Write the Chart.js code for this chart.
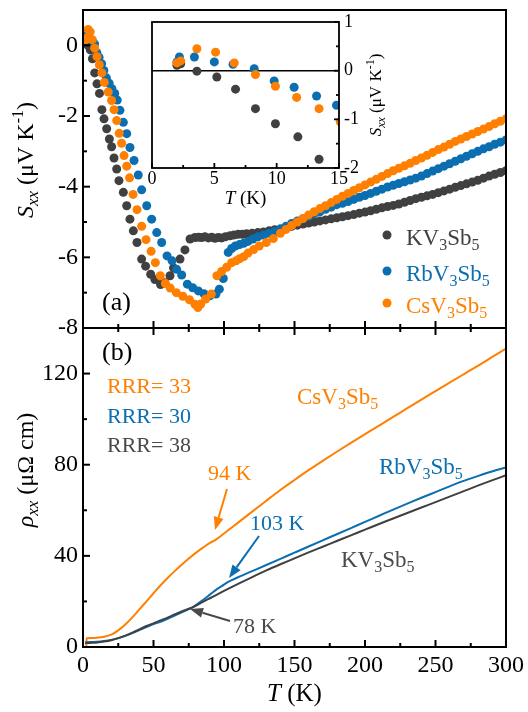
<!DOCTYPE html>
<html lang="en">
<head>
<meta charset="UTF-8">
<title>AV3Sb5 - Seebeck and resistivity</title>
<script src="https://cdn.jsdelivr.net/npm/chart.js"></script>
<style>
  body { margin: 0; background: #fff; }
  .wrap { position: relative; width: 528px; height: 712px; }
  .wrap canvas { position: absolute; left: 0; top: 0; }
</style>
</head>
<body>
<div class="wrap">
  <canvas id="rhoChart" width="528" height="712"></canvas>
  <canvas id="seebeckChart" width="528" height="712"></canvas>
  <canvas id="insetChart" width="528" height="712"></canvas>
</div>
<script>
// ---- panel (a): Seebeck S_xx (uV/K) vs T (K) ----
const kT  = [2.0, 2.3, 3.6, 5.2, 6.7, 8.3, 9.9, 11.7, 13.4, 14.9, 16.8, 18.7, 20.3, 22.0, 23.9, 25.5, 28.6, 31.0, 33.3, 35.7, 38.3, 41.6, 44.4, 48.0, 51.0, 55.0, 58.0, 61.7, 64.2, 68.8, 72.3, 75.9, 79.4, 82.0, 84.2, 86.5, 88.9, 91.3, 93.6, 96.0, 98.4, 101.0, 104.3, 107, 110, 113, 116, 120, 124, 128, 132, 136, 140];
const kS  = [0.11, 0.14, -0.01, -0.13, -0.38, -0.78, -1.09, -1.36, -1.82, -2.08, -2.36, -2.65, -2.87, -3.19, -3.5, -3.83, -4.16, -4.54, -4.92, -5.25, -5.58, -6.05, -6.25, -6.48, -6.63, -6.77, -6.72, -6.52, -6.3, -6.05, -5.79, -5.48, -5.44, -5.43, -5.44, -5.42, -5.45, -5.43, -5.46, -5.44, -5.45, -5.42, -5.39, -5.37, -5.35, -5.35, -5.33, -5.32, -5.3, -5.28, -5.25, -5.22, -5.2];
const rbT = [2.0, 2.2, 3.4, 5.0, 6.5, 8.2, 9.8, 11.4, 13.2, 14.8, 16.6, 18.5, 20.5, 22.5, 24.3, 26.2, 28.6, 31.0, 33.3, 36.2, 39.2, 41.6, 45.2, 48.7, 52.3, 55.8, 59.6, 63.2, 66.4, 70.0, 74.0, 77.8, 81.8, 85.8, 90.0, 94.3, 96.7, 99.5, 103.0, 105.4, 108, 111, 114, 117, 120.5, 124, 128, 132, 136, 140];
const rbS = [0.18, 0.28, 0.28, 0.18, 0.13, 0.04, -0.21, -0.34, -0.52, -0.71, -0.92, -1.07, -1.23, -1.36, -1.55, -1.84, -2.18, -2.5, -2.89, -3.26, -3.67, -4.09, -4.54, -4.92, -5.3, -5.58, -5.96, -6.1, -6.34, -6.5, -6.76, -6.86, -6.95, -7.03, -7.09, -7.04, -6.9, -6.6, -5.86, -5.75, -5.68, -5.64, -5.6, -5.55, -5.48, -5.42, -5.37, -5.32, -5.27, -5.2];
const csT = [2.0, 2.3, 3.6, 5.1, 6.6, 8.3, 9.9, 11.6, 13.4, 15.1, 17.9, 20.3, 22.0, 23.9, 25.7, 27.4, 29.1, 31.0, 33.0, 35.5, 38.3, 41.6, 44.7, 48.3, 51.3, 54.8, 58.4, 61.9, 66.2, 70.8, 75.5, 79.4, 81.5, 83.5, 87.0, 91.0, 95.0, 98.3, 101.9, 105.4, 108.5, 111, 114, 117, 121, 125, 130, 135, 140];
const csS = [0.16, 0.20, 0.45, 0.38, 0.16, -0.08, -0.32, -0.55, -0.78, -1.05, -1.32, -1.56, -1.82, -2.13, -2.49, -2.77, -3.12, -3.42, -3.75, -4.22, -4.65, -5.12, -5.5, -5.83, -6.15, -6.52, -6.74, -6.87, -7.0, -7.1, -7.2, -7.33, -7.42, -7.32, -7.18, -7.04, -6.52, -6.4, -6.28, -6.15, -6.1, -6.04, -5.98, -5.88, -5.78, -5.68, -5.58, -5.47, -5.32];

// dense high temperature part, shared temperatures
const hiT  = [144, 148, 152, 156, 160, 164, 168, 172, 176, 180, 184, 188, 192, 196, 200, 204, 208, 212, 216, 220, 224, 228, 232, 236, 240, 244, 248, 252, 256, 260, 264, 268, 272, 276, 280, 284, 288, 292, 296, 300];
const kHi  = [-5.16, -5.12, -5.09, -5.06, -5.03, -5.00, -4.97, -4.94, -4.91, -4.88, -4.85, -4.82, -4.79, -4.75, -4.72, -4.68, -4.64, -4.60, -4.56, -4.53, -4.49, -4.44, -4.39, -4.34, -4.30, -4.26, -4.22, -4.17, -4.12, -4.07, -4.02, -3.97, -3.92, -3.87, -3.82, -3.76, -3.70, -3.65, -3.60, -3.55];
const rbHi = [-5.12, -5.04, -4.97, -4.91, -4.84, -4.77, -4.71, -4.64, -4.58, -4.51, -4.47, -4.42, -4.36, -4.30, -4.25, -4.19, -4.13, -4.07, -4.01, -3.96, -3.91, -3.86, -3.81, -3.76, -3.70, -3.63, -3.56, -3.49, -3.42, -3.35, -3.28, -3.21, -3.14, -3.07, -3.00, -2.93, -2.87, -2.80, -2.74, -2.68];
const csHi = [-5.21, -5.10, -5.00, -4.90, -4.80, -4.71, -4.62, -4.54, -4.45, -4.36, -4.27, -4.19, -4.11, -4.03, -3.95, -3.87, -3.79, -3.71, -3.63, -3.55, -3.48, -3.41, -3.34, -3.26, -3.19, -3.11, -3.03, -2.95, -2.88, -2.80, -2.72, -2.65, -2.58, -2.51, -2.44, -2.37, -2.30, -2.22, -2.15, -2.08];

// ---- panel (b): resistivity rho_xx (uOhm cm) vs T (K) ----
const csRhoT = [1.5, 2.4, 2.6, 5, 10, 15, 20, 25, 30, 35, 40, 45, 50, 55, 60, 65, 70, 75, 80, 85, 90, 94, 100, 110, 120, 130, 140, 150, 160, 170, 180, 190, 200, 210, 220, 230, 240, 250, 260, 270, 280, 290, 300];
const csRho  = [0, 0, 3.8, 3.9, 4.1, 4.5, 5.4, 7.3, 9.9, 13.0, 16.5, 20.0, 23.6, 27.1, 30.3, 33.3, 36.1, 38.8, 41.3, 43.6, 45.7, 47.0, 49.8, 54.6, 59.4, 64.2, 68.9, 73.3, 77.6, 81.7, 85.7, 89.6, 93.4, 97.2, 101.0, 104.8, 108.6, 112.3, 116.0, 119.7, 123.4, 127.2, 131.0];
const rbRhoT = [1.5, 5, 10, 15, 20, 25, 30, 35, 40, 45, 50, 55, 60, 65, 70, 75, 78, 85, 90, 95, 100, 103, 110, 120, 130, 140, 150, 160, 170, 180, 190, 200, 210, 220, 230, 240, 250, 260, 270, 280, 290, 300];
const rbRho  = [2.1, 2.2, 2.3, 2.6, 3.1, 3.9, 4.9, 6.1, 7.4, 8.7, 10.1, 11.1, 12.4, 13.8, 15.2, 16.6, 17.5, 20.6, 23.0, 25.4, 27.4, 28.6, 30.6, 33.3, 36.0, 38.7, 41.4, 44.1, 46.8, 49.5, 52.2, 54.9, 57.6, 60.3, 62.9, 65.5, 68.0, 70.5, 72.9, 75.0, 77.0, 78.8];
const kRhoT  = [1.5, 5, 10, 15, 20, 25, 30, 35, 40, 45, 50, 55, 60, 65, 70, 75, 78, 85, 90, 100, 110, 120, 130, 140, 150, 160, 170, 180, 190, 200, 210, 220, 230, 240, 250, 260, 270, 280, 290, 300];
const kRho   = [1.7, 1.8, 2.0, 2.4, 3.0, 3.9, 5.0, 6.3, 7.7, 9.2, 10.4, 11.7, 12.9, 14.3, 15.6, 16.8, 17.5, 19.8, 21.4, 24.6, 27.7, 30.7, 33.6, 36.3, 38.9, 41.5, 44.0, 46.5, 49.0, 51.5, 54.0, 56.4, 58.8, 61.2, 63.6, 66.0, 68.4, 70.8, 73.1, 75.4];

// tick labels
const tTicks = [0, 50, 100, 150, 200, 250, 300];
const sTicks = [-8, -6, -4, -2, 0];
const rhoTicks = [0, 40, 80, 120];
const insetTTicks = [0, 5, 10, 15];
const insetSTicks = [-2, -1, 0, 1];

const C_K = '#404040', C_RB = '#0a6eb0', C_CS = '#ff8000';
const FONT = '"Liberation Serif", "Times New Roman", serif';

function pts(xs, ys) { return xs.map((x, i) => ({ x: x, y: ys[i] })); }
function f(size, italic) { return (italic ? 'italic ' : '') + size + 'px ' + FONT; }

// parts: [text, size, italic, dy]
function richText(ctx, parts, x, y, align) {
    let w = 0;
    parts.forEach(p => { ctx.font = f(p[1], p[2]); w += ctx.measureText(p[0]).width; });
    let cx = align === 'center' ? x - w / 2 : (align === 'right' ? x - w : x);
    ctx.textAlign = 'left';
    ctx.textBaseline = 'alphabetic';
    parts.forEach(p => {
        ctx.font = f(p[1], p[2]);
        ctx.fillText(p[0], cx, y + (p[3] || 0));
        cx += ctx.measureText(p[0]).width;
    });
}
function chem(a, big, small, drop) {
    return [[a, big], ['3', small, false, drop], ['Sb', big], ['5', small, false, drop]];
}
function arrow(ctx, x1, y1, x2, y2, color) {
    const ang = Math.atan2(y2 - y1, x2 - x1), L = 13, W = 5;
    const bx = x2 - L * Math.cos(ang), by = y2 - L * Math.sin(ang);
    ctx.strokeStyle = color; ctx.fillStyle = color; ctx.lineWidth = 2;
    ctx.beginPath(); ctx.moveTo(x1, y1); ctx.lineTo(bx, by); ctx.stroke();
    ctx.beginPath();
    ctx.moveTo(x2, y2);
    ctx.lineTo(bx + W * Math.sin(ang), by - W * Math.cos(ang));
    ctx.lineTo(bx - W * Math.sin(ang), by + W * Math.cos(ang));
    ctx.closePath(); ctx.fill();
}

// frame + inward ticks from the chart's own scales
function frameTicks(chart, o) {
    const { ctx, chartArea: a } = chart;
    const x = chart.scales.x, y = chart.scales.y;
    ctx.save();
    ctx.strokeStyle = '#000';
    ctx.lineWidth = o.lw;
    ctx.strokeRect(a.left, a.top, a.right - a.left, a.bottom - a.top);
    const tick = (x1, y1, x2, y2) => { ctx.beginPath(); ctx.moveTo(x1, y1); ctx.lineTo(x2, y2); ctx.stroke(); };
    o.xMajor.forEach((v, i) => {
        const px = x.getPixelForValue(v);
        tick(px, a.bottom, px, a.bottom - o.maj);
        if (o.topTicks) tick(px, a.top, px, a.top + o.maj);
        if (i < o.xMajor.length - 1) {
            const pm = x.getPixelForValue((v + o.xMajor[i + 1]) / 2);
            tick(pm, a.bottom, pm, a.bottom - o.min);
            if (o.topTicks) tick(pm, a.top, pm, a.top + o.min);
        }
    });
    const ex = o.yRight ? a.right : a.left, dir = o.yRight ? -1 : 1;
    o.yMajor.forEach((v, i) => {
        const py = y.getPixelForValue(v);
        tick(ex, py, ex + dir * o.maj, py);
        if (i < o.yMajor.length - 1) {
            const pm = y.getPixelForValue((v + o.yMajor[i + 1]) / 2);
            tick(ex, pm, ex + dir * o.min, pm);
        }
    });
    ctx.restore();
}

const base = {
    responsive: false,
    animation: false,
    devicePixelRatio: 1,
    events: [],
    plugins: { legend: { display: false }, tooltip: { enabled: false } }
};

// ---------- top panel ----------
new Chart(document.getElementById('seebeckChart'), {
    type: 'scatter',
    data: {
        datasets: [
            { label: 'KV3Sb5', data: pts(kT.concat(hiT), kS.concat(kHi)), backgroundColor: C_K, order: 3 },
            { label: 'RbV3Sb5', data: pts(rbT.concat(hiT), rbS.concat(rbHi)), backgroundColor: C_RB, order: 2 },
            { label: 'CsV3Sb5', data: pts(csT.concat(hiT), csS.concat(csHi)), backgroundColor: C_CS, order: 1 }
        ]
    },
    options: Object.assign({}, base, {
        layout: { padding: { left: 83, right: 22, top: 10, bottom: 384 } },
        elements: { point: { radius: 4.5, borderWidth: 0 } },
        scales: {
            x: { type: 'linear', min: 0, max: 300, display: false },
            y: { min: -8, max: 1, display: false }
        }
    }),
    plugins: [{
        id: 'panelA',
        afterDraw(chart) {
            const { ctx, chartArea: a } = chart;
            frameTicks(chart, { lw: 2, maj: 7, min: 4, xMajor: tTicks, yMajor: [-8, -6, -4, -2, 0], topTicks: false });
            ctx.save();
            ctx.fillStyle = '#000';
            ctx.font = f(24);
            ctx.textAlign = 'right';
            ctx.textBaseline = 'middle';
            sTicks.forEach(v => ctx.fillText(String(v), a.left - 5, chart.scales.y.getPixelForValue(v)));
            // y title
            ctx.save();
            ctx.translate(33, 160);
            ctx.rotate(-Math.PI / 2);
            richText(ctx, [['S', 24, true], ['xx', 17, true, 5], [' (\u03BCV K', 24], ['-1', 16, false, -10], [')', 24]], 0, 0, 'center');
            ctx.restore();
            richText(ctx, [['(a)', 26]], 102, 310, 'left');
            // legend
            const leg = [['KV', C_K, 235], ['RbV', C_RB, 271], ['CsV', C_CS, 303]];
            leg.forEach(l => {
                ctx.fillStyle = l[1];
                ctx.beginPath(); ctx.arc(387, l[2], 4.5, 0, Math.PI * 2); ctx.fill();
                richText(ctx, chem(l[0], 23, 16, 5), 406, l[2] + 10, 'left');
            });
            ctx.restore();
        }
    }]
});

// ---------- inset ----------
new Chart(document.getElementById('insetChart'), {
    type: 'scatter',
    data: {
        datasets: [
            { data: pts(kT, kS).filter(p => p.x < 16), backgroundColor: C_K, order: 3, clip: 0 },
            { data: pts(rbT, rbS).filter(p => p.x < 16), backgroundColor: C_RB, order: 2, clip: 0 },
            { data: pts(csT, csS).filter(p => p.x < 16), backgroundColor: C_CS, order: 1, clip: 0 }
        ]
    },
    options: Object.assign({}, base, {
        layout: { padding: { left: 152, right: 189, top: 22, bottom: 544 } },
        elements: { point: { radius: 4.5, borderWidth: 0 } },
        scales: {
            x: { type: 'linear', min: 0, max: 15, display: false },
            y: { min: -2, max: 1, display: false }
        }
    }),
    plugins: [{
        id: 'insetBox',
        beforeDatasetsDraw(chart) {
            const { ctx, chartArea: a } = chart;
            ctx.save();
            ctx.fillStyle = '#fff';
            ctx.fillRect(a.left, a.top, a.right - a.left, a.bottom - a.top);
            const y0 = chart.scales.y.getPixelForValue(0);
            ctx.strokeStyle = '#000'; ctx.lineWidth = 1.5;
            ctx.beginPath(); ctx.moveTo(a.left, y0); ctx.lineTo(a.right, y0); ctx.stroke();
            ctx.restore();
        },
        afterDraw(chart) {
            const { ctx, chartArea: a } = chart;
            frameTicks(chart, { lw: 1.8, maj: 5, min: 3, xMajor: insetTTicks, yMajor: insetSTicks, topTicks: false, yRight: true });
            ctx.save();
            ctx.fillStyle = '#000';
            ctx.font = f(18);
            ctx.textAlign = 'center';
            ctx.textBaseline = 'middle';
            insetTTicks.forEach(v => ctx.fillText(String(v), chart.scales.x.getPixelForValue(v), a.bottom + 11));
            ctx.textAlign = 'left';
            insetSTicks.forEach(v => ctx.fillText(String(v), a.right + 5, chart.scales.y.getPixelForValue(v)));
            richText(ctx, [['T', 19, true], [' (K)', 19]], (a.left + a.right) / 2, 204, 'center');
            ctx.save();
            ctx.translate(381, 95);
            ctx.rotate(-Math.PI / 2);
            richText(ctx, [['S', 17, true], ['xx', 12, true, 4], [' (\u03BCV K', 17], ['-1', 12, false, -7], [')', 17]], 0, 0, 'center');
            ctx.restore();
            ctx.restore();
        }
    }]
});

// ---------- bottom panel ----------
const lineDs = (label, xs, ys, color, order) => ({
    label: label, data: pts(xs, ys), borderColor: color, borderWidth: 2,
    pointRadius: 0, cubicInterpolationMode: 'monotone', order: order
});
new Chart(document.getElementById('rhoChart'), {
    type: 'line',
    data: {
        datasets: [
            lineDs('KV3Sb5', kRhoT, kRho, C_K, 1),
            lineDs('RbV3Sb5', rbRhoT, rbRho, C_RB, 2),
            lineDs('CsV3Sb5', csRhoT, csRho, C_CS, 3)
        ]
    },
    options: Object.assign({}, base, {
        layout: { padding: { left: 83, right: 22, top: 328, bottom: 65 } },
        scales: {
            x: { type: 'linear', min: 0, max: 300, display: false },
            y: { min: 0, max: 140, display: false }
        }
    }),
    plugins: [{
        id: 'panelB',
        afterDraw(chart) {
            const { ctx, chartArea: a } = chart;
            frameTicks(chart, { lw: 2, maj: 7, min: 4, xMajor: tTicks, yMajor: [0, 40, 80, 120], topTicks: true });
            ctx.save();
            ctx.fillStyle = '#000';
            ctx.font = f(24);
            ctx.textAlign = 'right';
            ctx.textBaseline = 'middle';
            rhoTicks.forEach(v => ctx.fillText(String(v), a.left - 5, chart.scales.y.getPixelForValue(v)));
            ctx.textAlign = 'center';
            tTicks.forEach(v => ctx.fillText(String(v), chart.scales.x.getPixelForValue(v), a.bottom + 19));
            richText(ctx, [['T', 25, true], [' (K)', 25]], (a.left + a.right) / 2, 701, 'center');
            ctx.save();
            ctx.translate(33, 470);
            ctx.rotate(-Math.PI / 2);
            richText(ctx, [['\u03C1', 24, true], ['xx', 17, true, 5], [' (\u03BC\u03A9 cm)', 24]], 0, 0, 'center');
            ctx.restore();

            richText(ctx, [['(b)', 26]], 102, 360, 'left');
            ctx.fillStyle = C_CS; richText(ctx, [['RRR= 33', 22]], 107, 393, 'left');
            ctx.fillStyle = C_RB; richText(ctx, [['RRR= 30', 22]], 107, 423, 'left');
            ctx.fillStyle = '#4a4a4a'; richText(ctx, [['RRR= 38', 22]], 107, 452, 'left');

            ctx.fillStyle = C_CS; richText(ctx, [['94 K', 22]], 208, 480, 'left');
            arrow(ctx, 227, 489, 215, 530, C_CS);
            ctx.fillStyle = C_RB; richText(ctx, [['103 K', 22]], 250, 530, 'left');
            arrow(ctx, 259, 536, 229, 578, C_RB);
            ctx.fillStyle = '#4a4a4a'; richText(ctx, [['78 K', 22]], 233, 633, 'left');
            arrow(ctx, 230, 621, 190, 609, '#4a4a4a');

            ctx.fillStyle = C_CS; richText(ctx, chem('CsV', 23, 16, 5), 297, 404, 'left');
            ctx.fillStyle = C_RB; richText(ctx, chem('RbV', 23, 16, 5), 379, 474, 'left');
            ctx.fillStyle = '#4a4a4a'; richText(ctx, chem('KV', 23, 16, 5), 341, 567, 'left');
            ctx.restore();
        }
    }]
});
</script>
</body>
</html>
